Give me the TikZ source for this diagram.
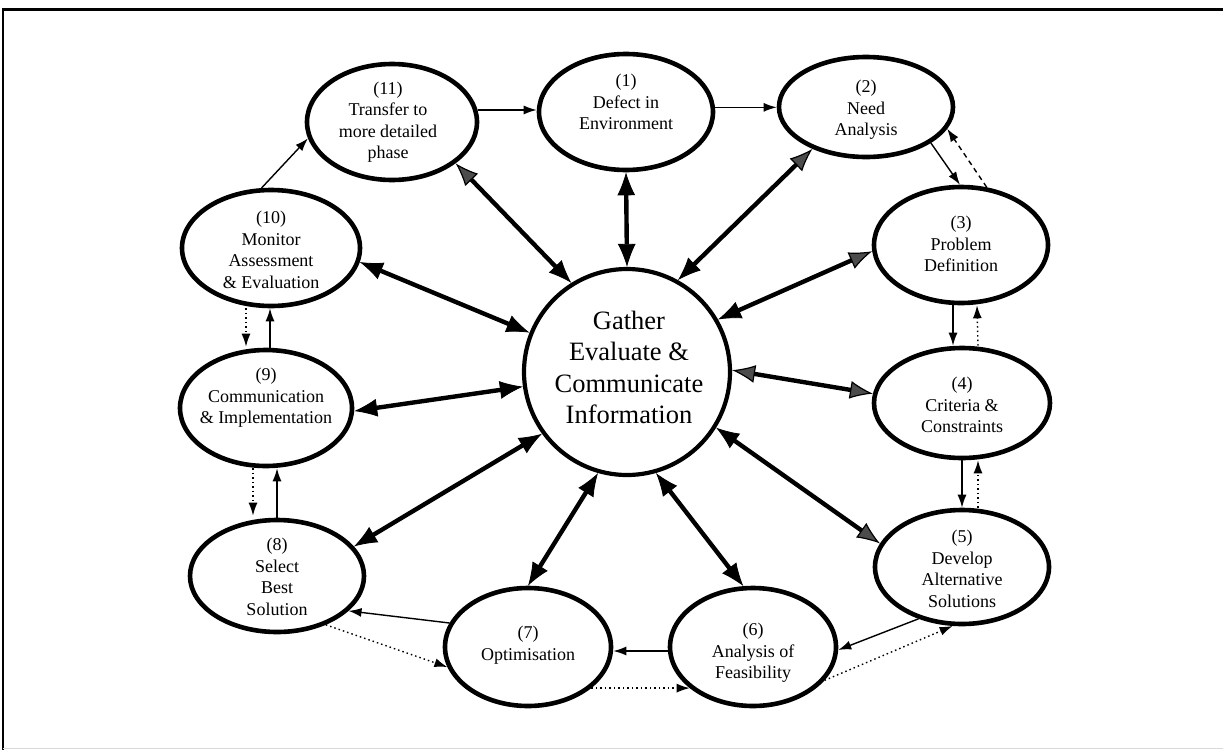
\documentclass[tikz,border=0pt]{standalone}
\usepackage{fontspec}
\setmainfont{Liberation Serif}
\usetikzlibrary{arrows.meta,shapes.geometric}
\tikzset{
  stage/.style={ellipse, draw, line width=4.6pt, inner sep=0pt},
  lbl/.style={align=center, font=\fontsize{18}{21.5}\selectfont, inner sep=0pt},
  hub/.style={circle, draw, line width=4.2pt, minimum size=206pt, inner sep=0pt},
  hubtext/.style={align=center, font=\fontsize{26.5}{31.5}\selectfont, inner sep=0pt},
  bh/.tip={Latex[length=23pt,width=18pt,line width=0.8pt]},
  gh/.tip={Latex[length=23pt,width=18pt,line width=1.2pt,fill=black!70]},
  sh/.tip={Latex[length=13pt,width=9pt]},
  link/.style={line width=4.4pt},
  flow/.style={line width=1.4pt, arrows={-sh}},
  back/.style={line width=1.4pt, dash pattern=on 1.5pt off 3pt, arrows={-sh}},
  retro/.style={line width=1.4pt, dash pattern=on 5pt off 4pt, arrows={-sh}},
}
\begin{document}
\begin{tikzpicture}[x=1pt,y=-1pt]
\useasboundingbox (0,0) rectangle (1223,750);
% frame
\draw[line width=2.5pt] (2,9.5) -- (1223,9.5);
\draw[line width=1.6pt] (3,9) -- (3,750);
\draw[black!15, line width=1pt] (3,748) -- (1223,748);

% central hub
\node[hub] (c) at (627,372) {};
\node[hubtext] (ct) at (629,367.5) {Gather\\Evaluate \&\\Communicate\\Information};

% stages (ellipses)
\node[stage, minimum width=174pt, minimum height=116pt] (n1)  at (626,112) {};
\node[stage, minimum width=174pt, minimum height=100pt] (n2)  at (866,107) {};
\node[stage, minimum width=174pt, minimum height=116pt] (n3)  at (961,245) {};
\node[stage, minimum width=176pt, minimum height=110pt] (n4)  at (962,403) {};
\node[stage, minimum width=174pt, minimum height=114pt] (n5)  at (962,567) {};
\node[stage, minimum width=166pt, minimum height=118pt] (n6)  at (753,647) {};
\node[stage, minimum width=166pt, minimum height=118pt] (n7)  at (528,647) {};
\node[stage, minimum width=174pt, minimum height=112pt] (n8)  at (277,576) {};
\node[stage, minimum width=172pt, minimum height=116pt] (n9)  at (266,408) {};
\node[stage, minimum width=178pt, minimum height=116pt] (n10) at (271,248) {};
\node[stage, minimum width=170pt, minimum height=116pt] (n11) at (392,122) {};

% stage labels
\node[lbl] (t1)  at (626,102) {(1)\\Defect in\\Environment};
\node[lbl] (t2)  at (866,110) {(2)\\Need\\Analysis};
\node[lbl] (t3)  at (961,244) {(3)\\Problem\\Definition};
\node[lbl] (t4)  at (962,405) {(4)\\Criteria \&\\Constraints};
\node[lbl] (t5)  at (962,569) {(5)\\Develop\\Alternative\\Solutions};
\node[lbl] (t6)  at (753,653) {(6)\\Analysis of\\Feasibility};
\node[lbl] (t7)  at (528,645) {(7)\\Optimisation};
\node[lbl] (t8)  at (277,577) {(8)\\Select\\Best\\Solution};
\node[lbl] (t9)  at (266,398) {(9)\\Communication\\\& Implementation};
\node[lbl] (t10) at (271,250) {(10)\\Monitor\\Assessment\\\& Evaluation};
\node[lbl] (t11) at (388,122) {(11)\\Transfer to\\more detailed\\phase};

% two-way links with the hub
\draw[link, arrows={bh-gh}] (c.122.6) -- (n11.-33.5);
\draw[link, arrows={bh-bh}] (c.90) -- (n1.south);
\draw[link, arrows={bh-gh}] (c.61.5) -- (n2.-142.3);
\draw[link, arrows={bh-gh}] (c.30.6) -- (n3.184.5);
\draw[link, arrows={gh-gh}] (c.1) -- (n4.174.9);
\draw[link, arrows={bh-gh}] (c.-32) -- (n5.164);
\draw[link, arrows={bh-bh}] (c.-74.7) -- (n6.99.5);
\draw[link, arrows={bh-bh}] (c.-106.8) -- (n7.90);
\draw[link, arrows={bh-bh}] (c.-144) -- (n8.21);
\draw[link, arrows={bh-bh}] (c.188.5) -- (n9.-2.7);
\draw[link, arrows={bh-bh}] (c.158.5) -- (n10.-9);

% forward cycle
\draw[flow] (n11.8) -- (n11.8 -| n1.west);
\draw[flow] (n1.3) -- (n1.3 -| n2.west);
\draw[flow] (n2.-29) -- (n3.91);
\draw[flow] ([xshift=-8pt]n3.south) -- ([xshift=-9pt]n4.north);
\draw[flow] (n4.south) -- (n5.north);
\draw[flow] (n5.-130) -- (n6.-2);
\draw[flow] ([yshift=-4pt]n6.west) -- ([yshift=-4pt]n7.east);
\draw[flow] (n7.163) -- (n8.-26);
\draw[flow] (n8.north) -- (n8.north |- n9.south);
\draw[flow] ([xshift=4pt]n9.north) -- ([xshift=4pt]n9.north |- n10.south);
\draw[flow] (n10.99) -- (n11.191);

% feedback paths
\draw[retro] (n3.66) -- (n2.-15.8);
\draw[back] ([xshift=16pt]n4.north) -- ([xshift=16pt]n3.south);
\draw[back] ([xshift=16pt]n5.north) -- ([xshift=16pt]n4.south);
\draw[back] (n6.-25) -- (n5.-99.5);
\draw[back] (n7.-33) -- (n6.-147);
\draw[back] (n8.-45) -- (n7.194);
\draw[back] ([xshift=-13pt]n9.south) -- ([xshift=-13pt,yshift=2pt]n9.south |- n8.north);
\draw[back] ([xshift=-25pt]n10.south) -- ([xshift=-25pt,yshift=1pt]n10.south |- n9.north);
\end{tikzpicture}
\end{document}
